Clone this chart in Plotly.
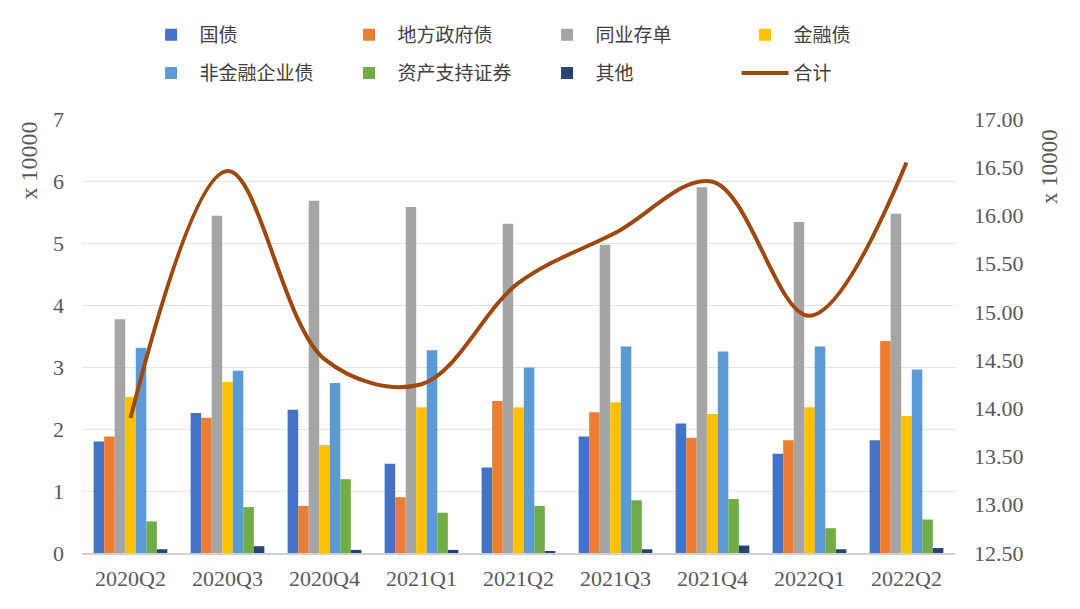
import plotly.graph_objects as go

categories = ["2020Q2", "2020Q3", "2020Q4", "2021Q1", "2021Q2", "2021Q3", "2021Q4", "2022Q1", "2022Q2"]

guozhai = [1.80, 2.26, 2.31, 1.44, 1.38, 1.88, 2.09, 1.60, 1.82]
difang = [1.88, 2.18, 0.76, 0.90, 2.45, 2.27, 1.86, 1.82, 3.42]
tongye = [3.77, 5.44, 5.68, 5.58, 5.31, 4.97, 5.90, 5.34, 5.47]
jinrong = [2.52, 2.76, 1.74, 2.35, 2.35, 2.43, 2.24, 2.35, 2.21]
feijinrong = [3.31, 2.94, 2.74, 3.27, 2.99, 3.33, 3.25, 3.33, 2.96]
abs_ = [0.51, 0.74, 1.19, 0.65, 0.76, 0.85, 0.87, 0.40, 0.54]
qita = [0.06, 0.11, 0.05, 0.05, 0.03, 0.06, 0.12, 0.06, 0.08]
heji = [13.90, 16.46, 14.51, 14.25, 15.30, 15.82, 16.35, 14.96, 16.55]

left_ticks = [0, 1, 2, 3, 4, 5, 6, 7]
right_ticks = [12.5, 13.0, 13.5, 14.0, 14.5, 15.0, 15.5, 16.0, 16.5, 17.0]

bar_series = [
    ("国债", guozhai, "#4472C4", "legend"),
    ("地方政府债", difang, "#ED7D31", "legend"),
    ("同业存单", tongye, "#A5A5A5", "legend"),
    ("金融债", jinrong, "#FFC000", "legend"),
    ("非金融企业债", feijinrong, "#5B9BD5", "legend2"),
    ("资产支持证券", abs_, "#70AD47", "legend2"),
    ("其他", qita, "#264478", "legend2"),
]

SERIF = "Liberation Serif, DejaVu Serif, serif"
CJK = "Noto Sans CJK SC, sans-serif"

fig = go.Figure()
for name, vals, color, lg in bar_series:
    fig.add_trace(go.Bar(
        x=categories, y=vals, name=name, legend=lg,
        marker=dict(color=color, line=dict(width=0)),
        yaxis="y",
    ))

fig.add_trace(go.Scatter(
    x=categories, y=heji, name="合计", yaxis="y2", legend="legend2",
    mode="lines",
    line=dict(color="#9E480E", width=4, shape="spline", smoothing=1.0),
))

legend_common = dict(
    orientation="h", xref="container", yref="container",
    xanchor="left", yanchor="top",
    entrywidth=136, entrywidthmode="pixels",
    itemwidth=47, tracegroupgap=0,
    font=dict(family=CJK, size=19, color="#404040"),
    bgcolor="rgba(0,0,0,0)",
)

fig.update_layout(
    width=1080, height=609,
    paper_bgcolor="white", plot_bgcolor="white",
    margin=dict(l=82, r=125, t=119, b=56, autoexpand=False),
    barmode="group", bargap=0.24, bargroupgap=0,
    font=dict(family=SERIF, size=22, color="#595959"),
    showlegend=True,
    legend=dict(x=0.132, y=0.974, **legend_common),
    legend2=dict(x=0.132, y=0.911, **legend_common),
    xaxis=dict(
        type="category", showgrid=False, ticks="",
        showline=True, linecolor="#D0D0D0", linewidth=2, ticklabelstandoff=5,
        tickfont=dict(family=SERIF, size=22, color="#595959"),
    ),
    yaxis=dict(
        range=[0, 7], tickvals=left_ticks, showgrid=True, gridcolor="#E3E3E3", gridwidth=1,
        zeroline=False, showline=False, ticks="", ticklabelstandoff=17,
        tickfont=dict(family=SERIF, size=22, color="#595959"),
    ),
    yaxis2=dict(
        range=[12.5, 17.0], tickvals=right_ticks, tickformat=".2f",
        overlaying="y", side="right", showgrid=False, zeroline=False, showline=False,
        ticks="", ticklabelstandoff=18,
        tickfont=dict(family=SERIF, size=22, color="#595959"),
    ),
    annotations=[
        dict(text="x 10000", xref="paper", yref="paper", x=-0.06, y=1.0, xanchor="right", yanchor="top",
             showarrow=False, textangle=-90, font=dict(family=SERIF, size=24, color="#595959"),
             xshift=14, yshift=-1),
        dict(text="x 10000", xref="paper", yref="paper", x=1.0, y=1.0, xanchor="left", yanchor="top",
             showarrow=False, textangle=-90, font=dict(family=SERIF, size=23, color="#595959"),
             xshift=80, yshift=-8),
    ],
)

fig.write_html("out.html", config={"displayModeBar": False},
               post_script="document.body.style.margin='0px';")
